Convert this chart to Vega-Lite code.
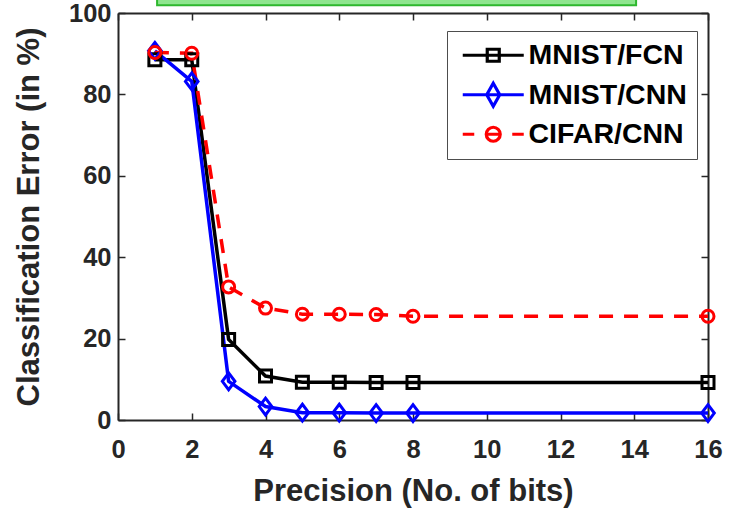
{
  "$schema": "https://vega.github.io/schema/vega-lite/v6.json",
  "width": 590,
  "height": 407,
  "autosize": {"type": "none"},
  "padding": {"left": 118, "top": 13, "right": 30, "bottom": 90},
  "background": "white",
  "config": {
    "view": {"stroke": null},
    "font": "Liberation Sans",
    "axis": {
      "grid": false,
      "domainColor": "#262626",
      "domainWidth": 2,
      "tickColor": "#262626",
      "tickWidth": 1.5,
      "tickSize": -7,
      "labelFont": "Liberation Sans",
      "labelFontSize": 25.5,
      "labelFontWeight": "bold",
      "labelColor": "#262626",
      "labelFlush": false,
      "labelOverlap": false,
      "titleFont": "Liberation Sans",
      "titleFontSize": 31,
      "titleFontWeight": "bold",
      "titleColor": "#262626"
    }
  },
  "datasets": {
    "results": [
      {"series": "MNIST/FCN", "bits": 1, "error": 88.5},
      {"series": "MNIST/FCN", "bits": 2, "error": 88.5},
      {"series": "MNIST/FCN", "bits": 3, "error": 19.8},
      {"series": "MNIST/FCN", "bits": 4, "error": 10.8},
      {"series": "MNIST/FCN", "bits": 5, "error": 9.3},
      {"series": "MNIST/FCN", "bits": 6, "error": 9.3},
      {"series": "MNIST/FCN", "bits": 7, "error": 9.2},
      {"series": "MNIST/FCN", "bits": 8, "error": 9.2},
      {"series": "MNIST/FCN", "bits": 16, "error": 9.2},
      {"series": "MNIST/CNN", "bits": 1, "error": 90.7},
      {"series": "MNIST/CNN", "bits": 2, "error": 83.2},
      {"series": "MNIST/CNN", "bits": 3, "error": 9.5},
      {"series": "MNIST/CNN", "bits": 4, "error": 3.3},
      {"series": "MNIST/CNN", "bits": 5, "error": 1.8},
      {"series": "MNIST/CNN", "bits": 6, "error": 1.8},
      {"series": "MNIST/CNN", "bits": 7, "error": 1.7},
      {"series": "MNIST/CNN", "bits": 8, "error": 1.7},
      {"series": "MNIST/CNN", "bits": 16, "error": 1.7},
      {"series": "CIFAR/CNN", "bits": 1, "error": 90.3},
      {"series": "CIFAR/CNN", "bits": 2, "error": 90.1},
      {"series": "CIFAR/CNN", "bits": 3, "error": 32.7},
      {"series": "CIFAR/CNN", "bits": 4, "error": 27.5},
      {"series": "CIFAR/CNN", "bits": 5, "error": 26.0},
      {"series": "CIFAR/CNN", "bits": 6, "error": 26.0},
      {"series": "CIFAR/CNN", "bits": 7, "error": 25.9},
      {"series": "CIFAR/CNN", "bits": 8, "error": 25.5},
      {"series": "CIFAR/CNN", "bits": 16, "error": 25.5}
    ],
    "banner": [{"item": "banner"}]
  },
  "data": {"name": "results"},
  "resolve": {"axis": {"x": "independent", "y": "independent"}},
  "layer": [
    {
      "transform": [{"filter": "datum.series !== 'CIFAR/CNN'"}],
      "mark": {"type": "line", "strokeWidth": 3.5},
      "encoding": {
        "x": {
          "field": "bits", "type": "quantitative",
          "scale": {"domain": [0, 16], "nice": false, "zero": false},
          "axis": {"orient": "bottom", "values": [0, 2, 4, 6, 8, 10, 12, 14, 16], "labelPadding": 24, "title": "Precision (No. of bits)", "titlePadding": 14}
        },
        "y": {
          "field": "error", "type": "quantitative",
          "scale": {"domain": [0, 100], "nice": false},
          "axis": {"orient": "left", "values": [0, 20, 40, 60, 80, 100], "labelPadding": 14, "title": "Classification Error (in %)", "titlePadding": 23}
        },
        "color": {
          "field": "series", "type": "nominal",
          "scale": {"domain": ["MNIST/FCN", "MNIST/CNN", "CIFAR/CNN"], "range": ["#000000", "#0000ff", "#ff0000"]},
          "legend": {
            "orient": "none",
            "legendX": 329,
            "legendY": 18,
            "title": null,
            "labelFont": "Liberation Sans",
            "labelFontSize": 28.5,
            "labelFontWeight": "bold",
            "labelColor": "#000000",
            "labelLimit": 400,
            "strokeColor": "#4d4d4d",
            "fillColor": "#ffffff",
            "padding": 10,
            "rowPadding": 6.5,
            "symbolSize": 400,
            "symbolStrokeWidth": 3,
            "symbolOffset": 22,
            "labelOffset": 21,
            "encode": {
              "symbols": {
                "update": {
                  "shape": {"signal": "datum.value === 'MNIST/FCN' ? 'M-3.05,0H3.05M-0.6,-0.6H0.6V0.6H-0.6Z' : datum.value === 'MNIST/CNN' ? 'M-3.05,0H3.05M0,-1.15L0.65,0L0,1.15L-0.65,0Z' : 'M-3.05,0H-1.9M-0.7,0H0.7M1.9,0H3.05M0.7,0A0.7,0.7,0,1,1,-0.7,0A0.7,0.7,0,1,1,0.7,0Z'"},
                  "fill": {"value": "transparent"},
                  "strokeWidth": {"value": 3.2},
                  "strokeDash": {"value": []},
                  "opacity": {"value": 1}
                }
              }
            }
          }
        }
      }
    },
    {
      "transform": [{"filter": "datum.series === 'CIFAR/CNN'"}],
      "mark": {"type": "line", "strokeWidth": 3.5, "strokeDash": [14, 11]},
      "encoding": {
        "x": {"field": "bits", "type": "quantitative", "scale": {"domain": [0, 16], "nice": false, "zero": false}, "axis": null},
        "y": {"field": "error", "type": "quantitative", "scale": {"domain": [0, 100], "nice": false}, "axis": null},
        "color": {"field": "series", "type": "nominal", "scale": {"domain": ["MNIST/FCN", "MNIST/CNN", "CIFAR/CNN"], "range": ["#000000", "#0000ff", "#ff0000"]}}
      }
    },
    {
      "transform": [{"filter": "datum.series === 'MNIST/FCN'"}],
      "mark": {"type": "point", "shape": "square", "filled": false, "strokeWidth": 3, "size": 144, "opacity": 1},
      "encoding": {
        "x": {"field": "bits", "type": "quantitative", "scale": {"domain": [0, 16], "nice": false, "zero": false}, "axis": null},
        "y": {"field": "error", "type": "quantitative", "scale": {"domain": [0, 100], "nice": false}, "axis": null},
        "color": {"field": "series", "type": "nominal", "scale": {"domain": ["MNIST/FCN", "MNIST/CNN", "CIFAR/CNN"], "range": ["#000000", "#0000ff", "#ff0000"]}}
      }
    },
    {
      "transform": [{"filter": "datum.series === 'MNIST/CNN'"}],
      "mark": {"type": "point", "shape": "M0,-1.4L1.05,0L0,1.4L-1.05,0Z", "filled": false, "strokeWidth": 3, "size": 144, "opacity": 1},
      "encoding": {
        "x": {"field": "bits", "type": "quantitative", "scale": {"domain": [0, 16], "nice": false, "zero": false}, "axis": null},
        "y": {"field": "error", "type": "quantitative", "scale": {"domain": [0, 100], "nice": false}, "axis": null},
        "color": {"field": "series", "type": "nominal", "scale": {"domain": ["MNIST/FCN", "MNIST/CNN", "CIFAR/CNN"], "range": ["#000000", "#0000ff", "#ff0000"]}}
      }
    },
    {
      "transform": [{"filter": "datum.series === 'CIFAR/CNN'"}],
      "mark": {"type": "point", "shape": "circle", "filled": false, "strokeWidth": 3, "size": 144, "opacity": 1},
      "encoding": {
        "x": {"field": "bits", "type": "quantitative", "scale": {"domain": [0, 16], "nice": false, "zero": false}, "axis": null},
        "y": {"field": "error", "type": "quantitative", "scale": {"domain": [0, 100], "nice": false}, "axis": null},
        "color": {"field": "series", "type": "nominal", "scale": {"domain": ["MNIST/FCN", "MNIST/CNN", "CIFAR/CNN"], "range": ["#000000", "#0000ff", "#ff0000"]}}
      }
    },
    {
      "data": {"name": "banner"},
      "mark": {"type": "rect", "fill": "#8fe68f", "stroke": "#2eb82e", "strokeWidth": 2, "clip": false},
      "encoding": {
        "x": {"datum": 1.06, "type": "quantitative", "scale": {"domain": [0, 16], "nice": false, "zero": false},
              "axis": {"orient": "top", "values": [0, 2, 4, 6, 8, 10, 12, 14, 16], "labels": false, "title": null}},
        "x2": {"datum": 14.05},
        "y": {"datum": 101.9, "type": "quantitative", "scale": {"domain": [0, 100], "nice": false},
              "axis": {"orient": "right", "values": [0, 20, 40, 60, 80, 100], "labels": false, "title": null}},
        "y2": {"datum": 104}
      }
    }
  ]
}
